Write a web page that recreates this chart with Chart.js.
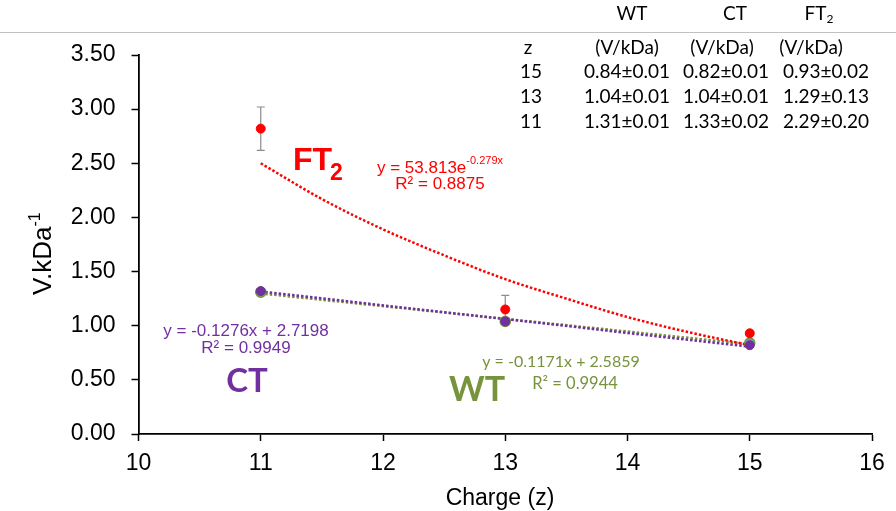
<!DOCTYPE html>
<html>
<head>
<meta charset="utf-8">
<script src="https://cdn.jsdelivr.net/npm/chart.js@4.4.1/dist/chart.umd.min.js"></script>
<style>
  html, body { margin: 0; padding: 0; background: #fff; }
  #wrap { width: 896px; height: 511px; position: relative; }
</style>
</head>
<body>
<div id="wrap"><canvas id="myChart"></canvas></div>
<script>
// measured points (charge z vs V/kDa)
const zValues = [11, 13, 15]
const ft2Values = [2.82, 1.15, 0.93]
const ft2Errors = [0.20, 0.13, 0.02]
const ctValues = [1.32, 1.04, 0.82]
const ctErrors = [0.02, 0.01, 0.01]
const wtValues = [1.31, 1.04, 0.84]
const wtErrors = [0.01, 0.01, 0.01]

// trendlines
const ft2FitX = [11, 11.5, 12, 12.5, 13, 13.5, 14, 14.5, 15]
const ft2FitY = [2.50, 2.17, 1.89, 1.65, 1.43, 1.25, 1.08, 0.94, 0.82]
const ctFitX = [11, 15]
const ctFitY = [1.316, 0.806]
const wtFitX = [11, 15]
const wtFitY = [1.298, 0.829]

// inset table
const tableZ = ['15', '13', '11']
const tableWT = ['0.84±0.01', '1.04±0.01', '1.31±0.01']
const tableCT = ['0.82±0.01', '1.04±0.01', '1.33±0.02']
const tableFT2 = ['0.93±0.02', '1.29±0.13', '2.29±0.20']

const RED = '#FF0000'
const PURPLE = '#7030A0'
const OLIVE = '#77933C'
const ARIAL = '"Liberation Sans", Arial, sans-serif'
const CALIBRI = 'Lato, "Open Sans", sans-serif'

const pts = (xs, ys) => xs.map((x, i) => ({ x: x, y: ys[i] }))

function drawRuns(ctx, runs, cx, y, color) {
    ctx.fillStyle = color
    let total = 0
    runs.forEach(r => { ctx.font = r.f; total += ctx.measureText(r.t).width })
    let x = cx - total / 2
    ctx.textAlign = 'left'
    ctx.textBaseline = 'alphabetic'
    runs.forEach(r => {
        ctx.font = r.f
        ctx.fillText(r.t, x, y + (r.dy || 0))
        x += ctx.measureText(r.t).width
    })
}

const errorBars = {
    id: 'errorBars',
    beforeDatasetsDraw(chart) {
        const ctx = chart.ctx
        const xs = chart.scales.x, ys = chart.scales.y
        ctx.save()
        ctx.strokeStyle = '#8c8c8c'
        ctx.lineWidth = 1.2
        chart.data.datasets.forEach(ds => {
            if (!ds.errors) return
            ds.data.forEach((p, i) => {
                const px = xs.getPixelForValue(p.x)
                const top = ys.getPixelForValue(p.y + ds.errors[i])
                const bot = ys.getPixelForValue(p.y - ds.errors[i])
                ctx.beginPath()
                ctx.moveTo(px, top); ctx.lineTo(px, bot)
                ctx.moveTo(px - 4, top); ctx.lineTo(px + 4, top)
                ctx.moveTo(px - 4, bot); ctx.lineTo(px + 4, bot)
                ctx.stroke()
            })
        })
        ctx.restore()
    }
}

const labels = {
    id: 'labels',
    afterDraw(chart) {
        const ctx = chart.ctx
        ctx.save()

        // y title with superscript
        ctx.save()
        ctx.translate(51, 295)
        ctx.rotate(-Math.PI / 2)
        ctx.fillStyle = '#000'
        ctx.textAlign = 'left'
        ctx.font = '26px ' + ARIAL
        ctx.fillText('V.kDa', 0, 0)
        const w = ctx.measureText('V.kDa').width
        ctx.font = '16px ' + ARIAL
        ctx.fillText('-1', w, -11)
        ctx.restore()

        // x title
        drawRuns(ctx, [{ t: 'Charge (z)', f: '23px ' + ARIAL }], 500, 505, '#000')

        // FT2 annotation
        ctx.fillStyle = RED
        ctx.textAlign = 'left'
        ctx.font = 'bold 32px ' + ARIAL
        ctx.fillText('FT', 293, 170)
        ctx.font = 'bold 23px ' + ARIAL
        ctx.fillText('2', 330, 180)
        drawRuns(ctx, [
            { t: 'y = 53.813e', f: '17px ' + ARIAL },
            { t: '-0.279x', f: '11px ' + ARIAL, dy: -9 }
        ], 440, 173, RED)
        drawRuns(ctx, [{ t: 'R² = 0.8875', f: '17px ' + ARIAL }], 440, 189, RED)

        // CT annotation
        drawRuns(ctx, [{ t: 'y = -0.1276x + 2.7198', f: '17px ' + ARIAL }], 246, 336, PURPLE)
        drawRuns(ctx, [{ t: 'R² = 0.9949', f: '17px ' + ARIAL }], 246, 353, PURPLE)
        drawRuns(ctx, [{ t: 'CT', f: 'bold 33px ' + CALIBRI }], 247, 392, PURPLE)

        // WT annotation
        drawRuns(ctx, [{ t: 'y = -0.1171x + 2.5859', f: '16px ' + CALIBRI }], 561, 367, OLIVE)
        drawRuns(ctx, [{ t: 'R² = 0.9944', f: '16.5px ' + CALIBRI }], 575, 389, OLIVE)
        drawRuns(ctx, [{ t: 'WT', f: 'bold 34px ' + CALIBRI }], 477, 401, OLIVE)

        // inset table
        ctx.strokeStyle = '#c0c0c0'
        ctx.lineWidth = 1
        ctx.beginPath()
        ctx.moveTo(0, 32.5); ctx.lineTo(896, 32.5)
        ctx.stroke()

        const tf = '19px ' + CALIBRI
        drawRuns(ctx, [{ t: 'WT', f: tf }], 632, 20, '#000')
        drawRuns(ctx, [{ t: 'CT', f: tf }], 735, 20, '#000')
        drawRuns(ctx, [{ t: 'FT', f: tf }, { t: '2', f: '12px ' + CALIBRI, dy: 3 }], 819, 20, '#000')
        drawRuns(ctx, [{ t: 'z', f: tf }], 528, 54, '#000')
        drawRuns(ctx, [{ t: '(V/kDa)', f: tf }], 627, 54, '#000')
        drawRuns(ctx, [{ t: '(V/kDa)', f: tf }], 722, 54, '#000')
        drawRuns(ctx, [{ t: '(V/kDa)', f: tf }], 811, 54, '#000')
        const rowY = [78, 103, 128]
        tableZ.forEach((z, i) => {
            drawRuns(ctx, [{ t: z, f: tf }], 531, rowY[i], '#000')
            drawRuns(ctx, [{ t: tableWT[i], f: tf }], 627, rowY[i], '#000')
            drawRuns(ctx, [{ t: tableCT[i], f: tf }], 726, rowY[i], '#000')
            drawRuns(ctx, [{ t: tableFT2[i], f: tf }], 826, rowY[i], '#000')
        })
        ctx.restore()
    }
}

const dotted = (color) => ({
    type: 'line',
    borderColor: color,
    borderWidth: 2.5,
    borderDash: [2.5, 2],
    borderCapStyle: 'butt',
    pointRadius: 0,
    fill: false
})

const ctx = document.getElementById('myChart')
new Chart(ctx, {
    type: 'scatter',
    data: {
        datasets: [
            { label: 'CT', data: pts(zValues, ctValues), errors: ctErrors, backgroundColor: PURPLE, borderColor: PURPLE, pointRadius: 4.5, order: 0 },
            { label: 'FT2', data: pts(zValues, ft2Values), errors: ft2Errors, backgroundColor: RED, borderColor: RED, pointRadius: 4.5, order: 1 },
            { label: 'WT', data: pts(zValues, wtValues), errors: wtErrors, backgroundColor: '#6f9fc8', borderColor: OLIVE, borderWidth: 1.5, pointRadius: 5, order: 2 },
            Object.assign(dotted(RED), { data: pts(ft2FitX, ft2FitY), cubicInterpolationMode: 'monotone', order: 3 }),
            Object.assign(dotted(OLIVE), { data: pts(wtFitX, wtFitY), order: 5 }),
            Object.assign(dotted(PURPLE), { data: pts(ctFitX, ctFitY), order: 4 })
        ]
    },
    options: {
        responsive: true,
        maintainAspectRatio: false,
        devicePixelRatio: 1,
        animation: false,
        layout: { padding: { top: 55, right: 24, left: 0, bottom: 0 } },
        plugins: { legend: { display: false }, tooltip: { enabled: false } },
        scales: {
            x: {
                type: 'linear', min: 10, max: 16,
                afterFit: s => { s.height = 77 },
                ticks: { stepSize: 1, padding: 9, color: '#000', font: { family: ARIAL, size: 23 } },
                grid: { drawOnChartArea: false, drawTicks: true, tickLength: 7, tickColor: '#000', tickWidth: 1.5 },
                border: { color: '#000', width: 1.8 }
            },
            y: {
                min: 0, max: 3.5,
                afterFit: s => { s.width = 138.5 },
                ticks: { stepSize: 0.5, padding: 16, color: '#000', font: { family: ARIAL, size: 23 }, callback: v => v.toFixed(2) },
                grid: { drawOnChartArea: false, drawTicks: true, tickLength: 7, tickColor: '#000', tickWidth: 1.5 },
                border: { color: '#000', width: 1.8 }
            }
        }
    },
    plugins: [errorBars, labels]
})
</script>
</body>
</html>
